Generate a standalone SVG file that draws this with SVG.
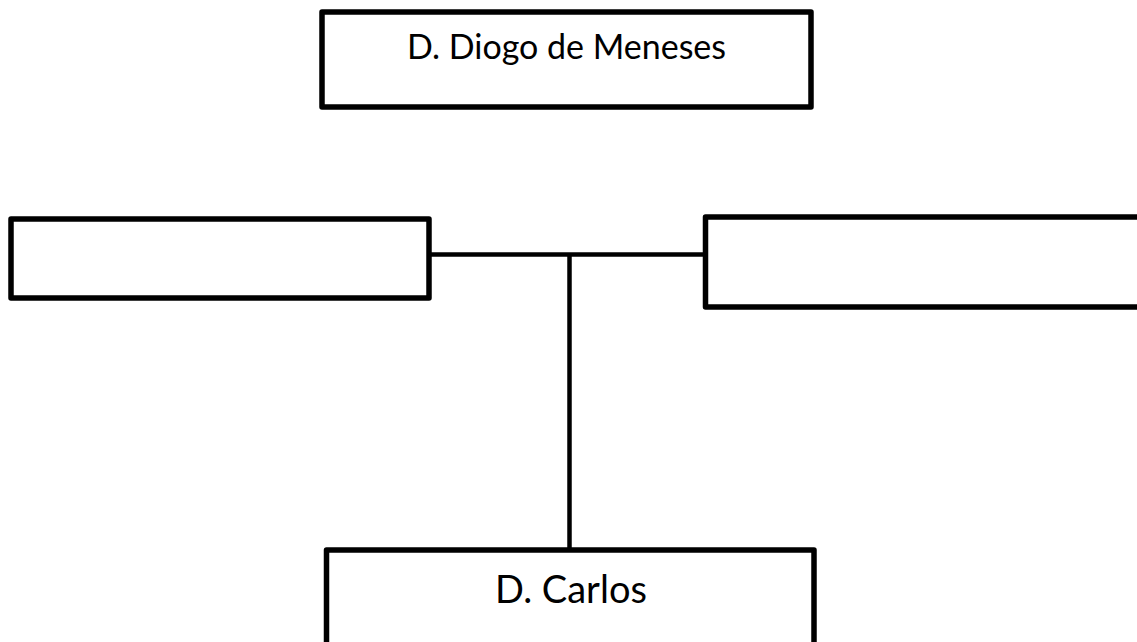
<svg xmlns="http://www.w3.org/2000/svg" width="1137" height="642" viewBox="0 0 1137 642">
  <style>
    .box { fill: #ffffff; stroke: #000000; stroke-width: 5.5; stroke-linejoin: round; }
    .conn { fill: none; stroke: #000000; stroke-width: 4.5; }
    .lbl { font-family: Lato, "Liberation Sans", sans-serif; fill: #000000; text-anchor: middle; }
  </style>
  <rect width="1137" height="642" fill="#ffffff"/>
  <g id="connectors">
    <line class="conn" x1="429" y1="254.5" x2="705.5" y2="254.5"/>
    <line class="conn" x1="569.5" y1="254.5" x2="569.5" y2="550"/>
  </g>
  <g id="node-diogo">
    <rect class="box" x="322" y="12" width="489" height="95"/>
    <text class="lbl" x="566.5" y="59" font-size="34">D. Diogo de Meneses</text>
  </g>
  <g id="node-left">
    <rect class="box" x="11" y="219" width="418" height="79"/>
  </g>
  <g id="node-right">
    <rect class="box" x="705.5" y="217" width="440" height="90"/>
  </g>
  <g id="node-carlos">
    <rect class="box" x="326.5" y="550" width="487.5" height="110"/>
    <text class="lbl" x="571" y="603" font-size="38">D. Carlos</text>
  </g>
</svg>
